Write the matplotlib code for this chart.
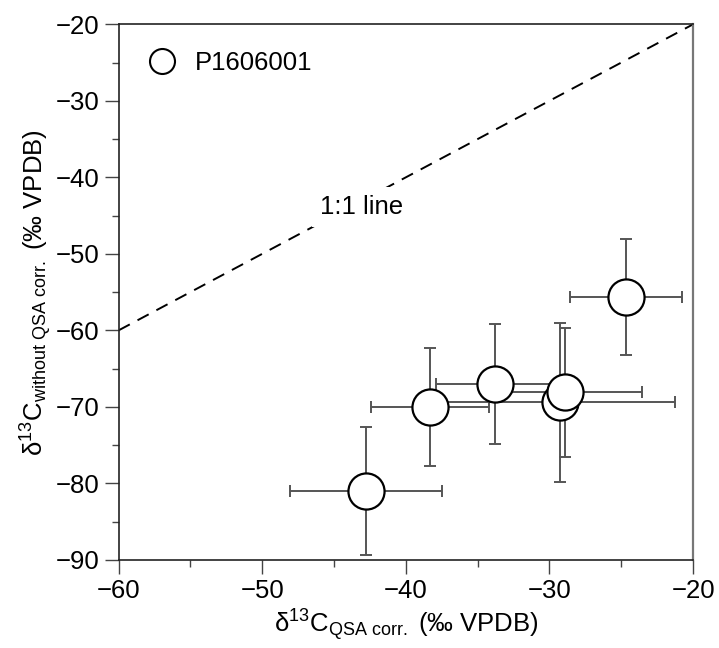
import matplotlib
matplotlib.use("Agg")
import matplotlib.pyplot as plt
from matplotlib.lines import Line2D
from matplotlib.ticker import MultipleLocator

plt.rcParams['font.family'] = ['Liberation Sans', 'DejaVu Sans']
plt.rcParams['mathtext.fontset'] = 'custom'
plt.rcParams['mathtext.rm'] = 'Liberation Sans'
plt.rcParams['mathtext.it'] = 'Liberation Sans:italic'
plt.rcParams['mathtext.bf'] = 'Liberation Sans:bold'

# Data
x_qsa = [-42.8, -38.3, -33.8, -29.3, -28.9, -24.65]
y_noqsa = [-81.0, -70.0, -67.0, -69.4, -68.1, -55.6]
x_err = [5.3, 4.1, 4.1, 8.05, 5.35, 3.9]
y_err = [8.4, 7.7, 7.8, 10.4, 8.4, 7.6]
one_to_one = [-60, -20]
series_label = "P1606001"

FS = 18.5

fig = plt.figure(figsize=(7.19, 6.48), dpi=100)
ax = fig.add_axes([0.165, 0.136, 0.799, 0.8265])

ax.plot(one_to_one, one_to_one, ls=(0, (6.5, 4.5)), color='black', lw=1.4, zorder=1)
ax.text(-43.1, -43.9, "1:1 line", fontsize=FS, ha='center', va='center',
        bbox=dict(facecolor='white', edgecolor='none', pad=6), zorder=2)

ax.errorbar(x_qsa, y_noqsa, xerr=x_err, yerr=y_err, fmt='none',
            ecolor='#555555', elinewidth=1.4, capsize=4, capthick=1.4, zorder=3)
for i in range(len(x_qsa)):
    ax.plot([x_qsa[i]], [y_noqsa[i]], 'o', ms=26, mfc='white', mec='black',
            mew=1.6, zorder=4 + i)

ax.set_xlim(-60, -20)
ax.set_ylim(-90, -20)
ax.xaxis.set_major_locator(MultipleLocator(10))
ax.xaxis.set_minor_locator(MultipleLocator(5))
ax.yaxis.set_major_locator(MultipleLocator(10))
ax.yaxis.set_minor_locator(MultipleLocator(5))
ax.tick_params(which='major', direction='out', length=10, width=1.0,
               color='#444444', labelsize=FS, pad=4)
ax.tick_params(which='minor', direction='out', length=5, width=1.0, color='#444444')

for s in ['left', 'bottom', 'top']:
    ax.spines[s].set_color('#222222')
    ax.spines[s].set_linewidth(1.2)
ax.spines['right'].set_color('#777777')
ax.spines['right'].set_linewidth(1.6)

ax.set_xlabel(r"δ$^{13}$C$_{\mathrm{QSA\ corr.}}$ (‰ VPDB)", fontsize=FS, labelpad=3)
ax.set_ylabel(r"δ$^{13}$C$_{\mathrm{without\ QSA\ corr.}}$ (‰ VPDB)", fontsize=FS, labelpad=1)

handle = Line2D([], [], marker='o', ls='none', ms=18, mfc='white', mec='black', mew=1.5)
ax.legend([handle], [series_label], loc='upper left', frameon=False, fontsize=FS,
          handlelength=1.3, handletextpad=0.6, borderaxespad=0.6, borderpad=0.45,
          bbox_to_anchor=(0.0, 1.0))

fig.savefig("out.png", dpi=100)
